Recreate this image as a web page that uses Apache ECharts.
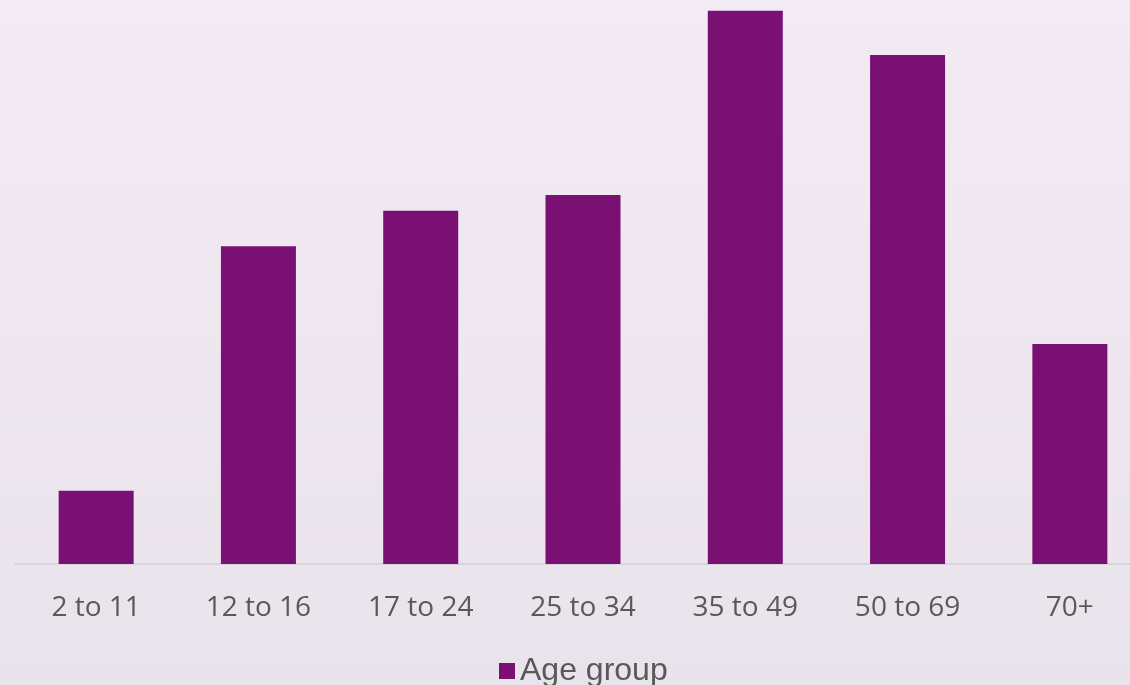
<!DOCTYPE html>
<html>
<head>
<meta charset="utf-8">
<script src="https://cdn.jsdelivr.net/npm/echarts@6/dist/echarts.min.js"></script>
<style>
html,body{margin:0;padding:0;overflow:hidden;width:1130px;height:685px;}
#wrap{width:1130px;height:685px;overflow:hidden;background:linear-gradient(to bottom,#f2ebf3 0%,#ede6ef 60%,#e9e3eb 100%);}
#c{width:1151px;height:685px;}
</style>
</head>
<body>
<div id="wrap"><div id="c"></div></div>
<script>
const categories = ['2 to 11','12 to 16','17 to 24','25 to 34','35 to 49','50 to 69','70+'];
const seriesName = 'Age group';
const values = [3.3, 14.3, 15.9, 16.6, 24.9, 22.9, 9.9];

const chart = echarts.init(document.getElementById('c'), null, {renderer:'canvas'});
chart.setOption({
  backgroundColor: 'transparent',
  animation: false,
  grid: {left: 15, right: 0, top: 4, bottom: 121, containLabel: false},
  legend: {
    show: true,
    left: 494, top: 650,
    itemWidth: 16, itemHeight: 16, itemGap: 10,
    icon: 'rect',
    textStyle: {fontFamily: 'Liberation Sans', fontSize: 32, color: '#595959', padding: [0,0,0,0]},
    data: [seriesName]
  },
  xAxis: {
    type: 'category',
    data: categories,
    axisLine: {show: true, lineStyle: {color: '#d9d4db', width: 2}},
    axisTick: {show: false},
    axisLabel: {fontFamily: 'Open Sans', fontSize: 28, color: '#595959', margin: 30}
  },
  yAxis: {
    type: 'value', min: 0, max: 25.2,
    show: false,
    splitLine: {show: false}
  },
  series: [{
    name: seriesName,
    type: 'bar',
    data: values,
    barWidth: 75,
    itemStyle: {color: '#7a0f74'}
  }]
});
</script>
</body>
</html>
